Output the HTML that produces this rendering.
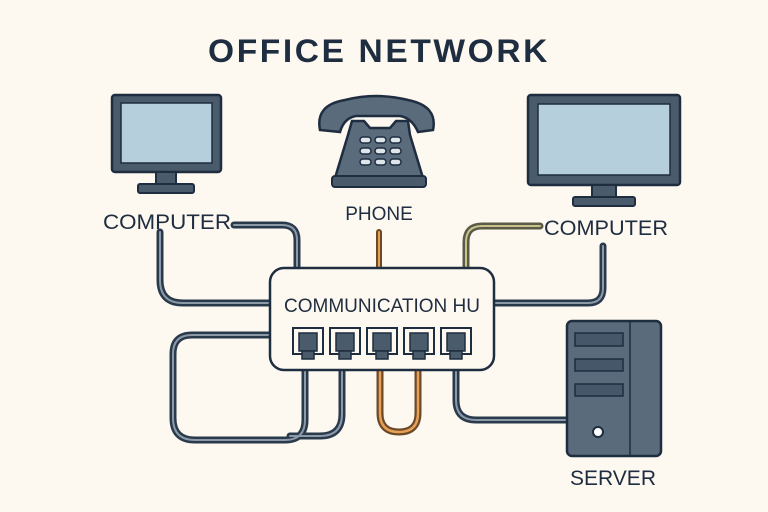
<!DOCTYPE html>
<html><head><style>
html,body{margin:0;padding:0;background:#fdf8f0;}
svg{display:block;}
text{font-family:"Liberation Sans",sans-serif;fill:#1e2d3f;}
</style></head><body>
<svg width="768" height="512" viewBox="0 0 768 512">
<rect width="768" height="512" fill="#fdf8f0"/>
<text x="379" y="62" font-size="32" font-weight="bold" text-anchor="middle" letter-spacing="2.5" textLength="342" lengthAdjust="spacingAndGlyphs">OFFICE NETWORK</text>
<g fill="none" stroke-linecap="round" stroke-linejoin="round">
<g stroke="#2a3a4d" stroke-width="7">
<path d="M234 225 H282 Q297 225 297 240 V268"/>
<path d="M160 232 V280 Q160 303 183 303 H272"/>
<path d="M272 335 H192 Q173 335 173 354 V418 Q173 440 195 440 H285 Q305 440 305 420 V360"/>
<path d="M342 360 V414 Q342 436 320 436 H290"/>
<path d="M456 360 V400 Q456 420 476 420 H568"/>
<path d="M494 303 H588 Q603 303 603 288 V246"/>
</g>
<g stroke="#8c99a6" stroke-width="2">
<path d="M234 225 H282 Q297 225 297 240 V268"/>
<path d="M160 232 V280 Q160 303 183 303 H272"/>
<path d="M272 335 H192 Q173 335 173 354 V418 Q173 440 195 440 H285 Q305 440 305 420 V360"/>
<path d="M342 360 V414 Q342 436 320 436 H290"/>
<path d="M456 360 V400 Q456 420 476 420 H568"/>
<path d="M494 303 H588 Q603 303 603 288 V246"/>
</g>
<path d="M540 226 H482 Q466 226 466 242 V268" stroke="#5a5a48" stroke-width="7"/>
<path d="M540 226 H482 Q466 226 466 242 V268" stroke="#c9c08a" stroke-width="2"/>
<path d="M379 232 V268" stroke="#6b4a2a" stroke-width="6"/>
<path d="M379 232 V268" stroke="#e8a055" stroke-width="2"/>
<path d="M380 360 V413 Q380 432 399 432 Q418 432 418 413 V360" stroke="#6b4a2a" stroke-width="7"/>
<path d="M380 360 V413 Q380 432 399 432 Q418 432 418 413 V360" stroke="#e8a055" stroke-width="2.5"/>
</g>
<rect x="270" y="268" width="224" height="102" rx="14" fill="#fdf8f0" stroke="#1e2d3f" stroke-width="2.5"/>
<text x="382" y="312" font-size="19" text-anchor="middle">COMMUNICATION HU</text>
<g fill="#fdf8f0" stroke="#1e2d3f" stroke-width="2">
<rect x="293" y="328" width="30" height="26"/><rect x="330" y="328" width="30" height="26"/><rect x="367" y="328" width="30" height="26"/><rect x="404" y="328" width="30" height="26"/><rect x="441" y="328" width="30" height="26"/>
</g>
<g fill="#4a5b6c" stroke="#1e2d3f" stroke-width="1.5">
<rect x="299" y="333" width="18" height="18"/><rect x="336" y="333" width="18" height="18"/><rect x="373" y="333" width="18" height="18"/><rect x="410" y="333" width="18" height="18"/><rect x="447" y="333" width="18" height="18"/>
<rect x="302" y="351" width="12" height="8"/><rect x="339" y="351" width="12" height="8"/><rect x="376" y="351" width="12" height="8"/><rect x="413" y="351" width="12" height="8"/><rect x="450" y="351" width="12" height="8"/>
</g>
<rect x="112" y="95" width="109" height="77" rx="3" fill="#4a5b6c" stroke="#1e2d3f" stroke-width="2.5"/>
<rect x="121" y="103" width="91" height="60" fill="#b5d0dc" stroke="#1e2d3f" stroke-width="1.5"/>
<rect x="156" y="172" width="20" height="12" fill="#4a5b6c" stroke="#1e2d3f" stroke-width="2"/>
<rect x="138" y="184" width="56" height="9" rx="2" fill="#4a5b6c" stroke="#1e2d3f" stroke-width="2"/>
<text x="167" y="229" font-size="21" text-anchor="middle" textLength="128" lengthAdjust="spacingAndGlyphs">COMPUTER</text>
<rect x="528" y="95" width="152" height="90" rx="3" fill="#4a5b6c" stroke="#1e2d3f" stroke-width="2.5"/>
<rect x="538" y="104" width="132" height="71" fill="#b5d0dc" stroke="#1e2d3f" stroke-width="1.5"/>
<rect x="592" y="185" width="24" height="12" fill="#4a5b6c" stroke="#1e2d3f" stroke-width="2"/>
<rect x="573" y="197" width="62" height="9" rx="2" fill="#4a5b6c" stroke="#1e2d3f" stroke-width="2"/>
<text x="606" y="235" font-size="21" text-anchor="middle" textLength="124" lengthAdjust="spacingAndGlyphs">COMPUTER</text>
<path d="M320 130 Q315 105 345 100 Q376 92 408 100 Q438 106 433 130 L418 132 Q412 118 400 116 L356 116 Q344 118 340 132 Z" fill="#5a6b7c" stroke="#1e2d3f" stroke-width="2.5"/>
<path d="M352 121 L364 121 L370 128 L390 128 L396 121 L408 121 L410 135 L423 178 L335 178 L348 135 Z" fill="#5a6b7c" stroke="#1e2d3f" stroke-width="2.5"/>
<rect x="332" y="176" width="94" height="11" rx="3" fill="#4a5b6c" stroke="#1e2d3f" stroke-width="2"/>
<g fill="#dfe6ea" stroke="#1e2d3f" stroke-width="1.5">
<rect x="360" y="137" width="11" height="6" rx="3"/><rect x="375" y="137" width="11" height="6" rx="3"/><rect x="390" y="137" width="11" height="6" rx="3"/>
<rect x="360" y="148" width="11" height="6" rx="3"/><rect x="375" y="148" width="11" height="6" rx="3"/><rect x="390" y="148" width="11" height="6" rx="3"/>
<rect x="360" y="159" width="11" height="6" rx="3"/><rect x="375" y="159" width="11" height="6" rx="3"/><rect x="390" y="159" width="11" height="6" rx="3"/>
</g>
<text x="379" y="220" font-size="19" text-anchor="middle">PHONE</text>
<rect x="567" y="321" width="94" height="135" rx="5" fill="#5a6b7c" stroke="#1e2d3f" stroke-width="2.5"/>
<line x1="630" y1="322" x2="630" y2="455" stroke="#1e2d3f" stroke-width="1.5"/>
<g fill="#46576a" stroke="#1e2d3f" stroke-width="1.5">
<rect x="575" y="333" width="48" height="13"/><rect x="575" y="359" width="48" height="12"/><rect x="575" y="384" width="48" height="12"/>
</g>
<circle cx="598" cy="432" r="5" fill="#fff" stroke="#1e2d3f" stroke-width="2"/>
<text x="613" y="485" font-size="21" text-anchor="middle">SERVER</text>
</svg>
</body></html>
